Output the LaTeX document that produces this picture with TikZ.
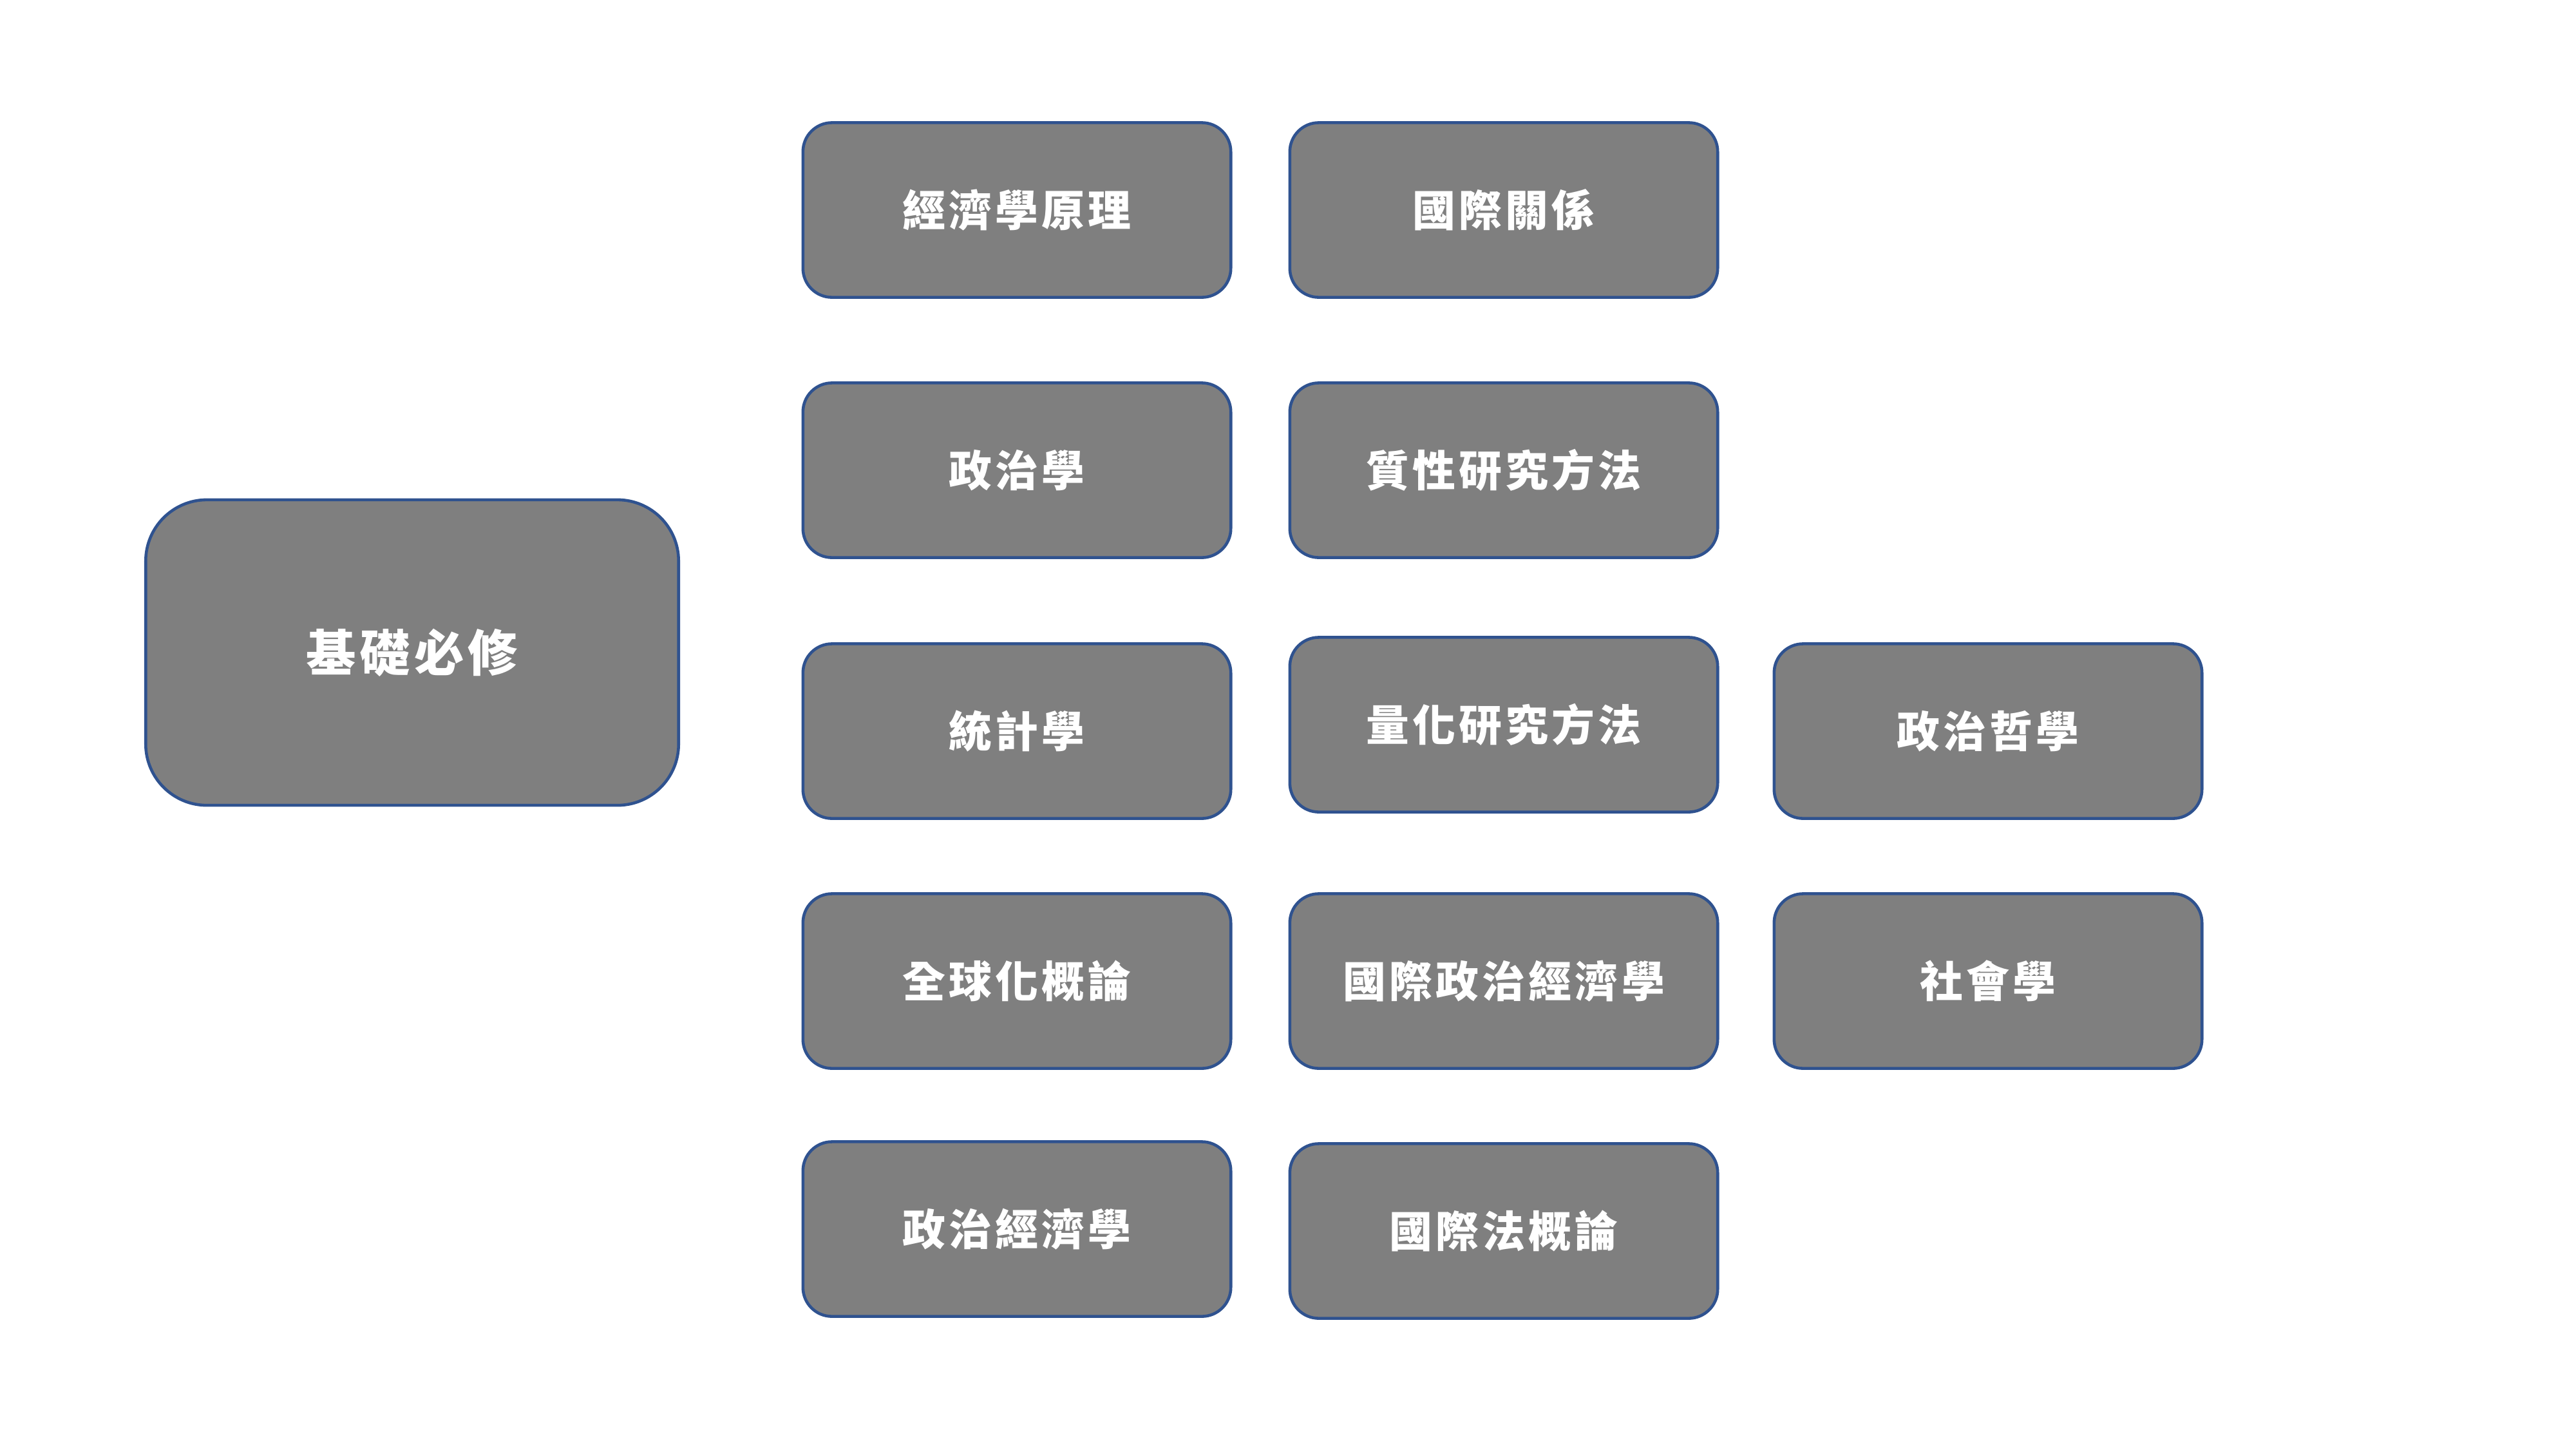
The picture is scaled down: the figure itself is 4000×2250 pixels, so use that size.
\documentclass[tikz,border=0pt]{standalone}
\usepackage{fontspec}
\newfontfamily\cjk{Noto Sans CJK TC}[LetterSpace=8]
\definecolor{boxfill}{HTML}{7F7F7F}
\definecolor{boxline}{HTML}{2F528F}
\newcommand\lbl[1]{\raisebox{-2.3pt}{#1}}
\tikzset{
  course/.style={draw=boxline, fill=boxfill, line width=1.3pt, rounded corners=0.45cm,
    minimum width=6.64cm, minimum height=2.71cm, inner sep=0pt, text=white,
    font=\cjk\bfseries\fontsize{19}{22}\selectfont},
  basebox/.style={course, rounded corners=0.95cm, minimum width=8.27cm, minimum height=4.74cm,
    font=\cjk\bfseries\fontsize{22}{26}\selectfont}
}
\begin{document}
\begin{tikzpicture}[x=0.01cm,y=-0.01cm]
\useasboundingbox (0,0) rectangle (4000,2250);
\node[basebox] (base) at (640,1013) {\lbl{基礎必修}};
\node[course] (econ) at (1579,326) {\lbl{經濟學原理}};
\node[course] (ir) at (2335,326) {\lbl{國際關係}};
\node[course] (pol) at (1579,730) {\lbl{政治學}};
\node[course] (qual) at (2335,730) {\lbl{質性研究方法}};
\node[course] (stat) at (1579,1135) {\lbl{統計學}};
\node[course] (quant) at (2335,1125) {\lbl{量化研究方法}};
\node[course] (phil) at (3087,1135) {\lbl{政治哲學}};
\node[course] (glob) at (1579,1523) {\lbl{全球化概論}};
\node[course] (ipe) at (2335,1523) {\lbl{國際政治經濟學}};
\node[course] (soc) at (3087,1523) {\lbl{社會學}};
\node[course] (pe) at (1579,1908) {\lbl{政治經濟學}};
\node[course] (il) at (2335,1911) {\lbl{國際法概論}};
\end{tikzpicture}
\end{document}
